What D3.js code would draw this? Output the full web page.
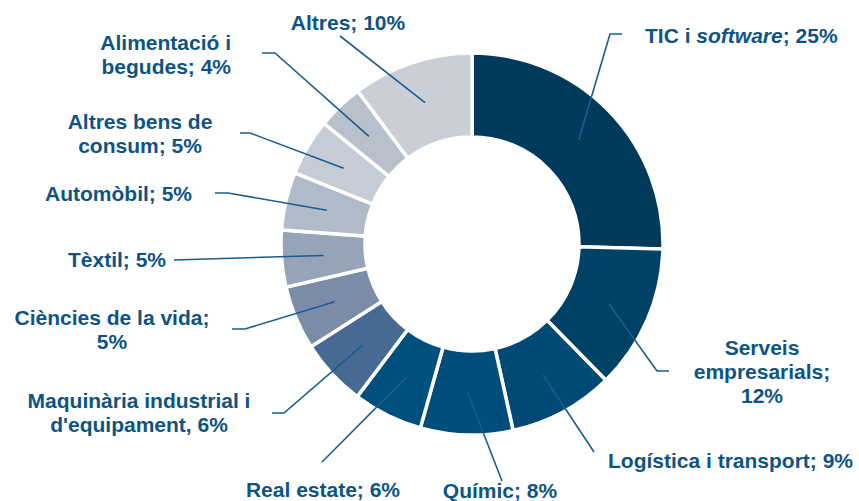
<!DOCTYPE html>
<html>
<head>
<meta charset="utf-8">
<script src="https://cdn.jsdelivr.net/npm/d3@7"></script>
<style>
  body { margin: 0; background: #fff; }
  svg text { font-family: "Liberation Sans", Arial, sans-serif; font-weight: bold; font-size: 21px; fill: #0d5484; }
</style>
</head>
<body>
<svg id="chart"></svg>
<script>
var w = 859;
var h = 501;

// sectors, clockwise from 12 o'clock
var sectors = ["TIC i software", "Serveis empresarials", "Logística i transport", "Químic",
    "Real estate", "Maquinària industrial i d'equipament", "Ciències de la vida", "Tèxtil",
    "Automòbil", "Altres bens de consum", "Alimentació i begudes", "Altres"];
// share
var shares = [25.4, 12.2, 8.9, 7.8, 5.9, 5.7, 5.4, 4.8, 4.9, 4.8, 3.9, 10.2];
// rounded value printed in the labels
var shown = [25, 12, 9, 8, 6, 6, 5, 5, 5, 5, 4, 10];

var colors = ["#003a5a", "#004266", "#004a75", "#004c7a", "#00507f", "#466a92",
    "#7a8ca8", "#96a4b8", "#b1bac8", "#c5ccd6", "#b8c0cc", "#c9ced7"];

// label layout: lines of text, anchor point, and leader points before the centroid
var labels = [
    {lines: [["TIC i ", "software", "; 25%"]], x: 645, y: 43, anchor: "start", lead: [[622, 34], [610, 34]]},
    {lines: ["Serveis", "empresarials;", "12%"], x: 762, y: 355, anchor: "middle", lead: [[669, 371], [657, 371]]},
    {lines: ["Logística i transport; 9%"], x: 608, y: 468, anchor: "start", lead: [[594, 452]]},
    {lines: ["Químic; 8%"], x: 500, y: 498, anchor: "middle", lead: [[502, 481]]},
    {lines: ["Real estate; 6%"], x: 323, y: 497, anchor: "middle", lead: [[322, 462]]},
    {lines: ["Maquinària industrial i", "d'equipament, 6%"], x: 139, y: 408, anchor: "middle", lead: [[272, 413], [284, 413]]},
    {lines: ["Ciències de la vida;", "5%"], x: 112, y: 325, anchor: "middle", lead: [[232, 329], [245, 329]]},
    {lines: ["Tèxtil; 5%"], x: 166, y: 267, anchor: "end", lead: [[174, 260]]},
    {lines: ["Automòbil; 5%"], x: 192, y: 201, anchor: "end", lead: [[215, 193], [228, 193]]},
    {lines: ["Altres bens de", "consum; 5%"], x: 140, y: 129, anchor: "middle", lead: [[240, 133], [250, 133]]},
    {lines: ["Alimentació i", "begudes; 4%"], x: 231, y: 50, anchor: "end", lead: [[262, 53], [275, 53]]},
    {lines: ["Altres; 10%"], x: 348, y: 30, anchor: "middle", lead: [[340, 36]]}
];

var cx = 472;
var cy = 244;
var outerRadius = 191;
var innerRadius = 107;

var svg = d3.select("#chart")
    .attr("width", w)
    .attr("height", h);

var pie = d3.pie()
    .sort(null)
    .value(function(d) { return d; });

var arc = d3.arc()
    .innerRadius(innerRadius)
    .outerRadius(outerRadius);

var arcs = pie(shares);

var g = svg.append("g")
    .attr("transform", "translate(" + cx + "," + cy + ")");

g.selectAll("path.slice")
    .data(arcs)
    .enter()
    .append("path")
    .attr("class", "slice")
    .attr("d", arc)
    .attr("fill", function(d, i) { return colors[i]; })
    .attr("stroke", "#fff")
    .attr("stroke-width", 3.5)
    .attr("stroke-linejoin", "miter");

// leader lines end at the slice centroid
var line = d3.line();
svg.selectAll("path.leader")
    .data(arcs)
    .enter()
    .append("path")
    .attr("class", "leader")
    .attr("fill", "none")
    .attr("stroke", "#1a5d8f")
    .attr("stroke-width", 1.6)
    .attr("d", function(d, i) {
        var c = arc.centroid(d);
        var pts = labels[i].lead.concat([[c[0] + cx, c[1] + cy]]);
        return line(pts);
    });

var lineHeight = 24;
labels.forEach(function(lab, i) {
    var t = svg.append("text")
        .attr("x", lab.x)
        .attr("y", lab.y)
        .attr("text-anchor", lab.anchor);
    lab.lines.forEach(function(ln, k) {
        if (Array.isArray(ln)) {
            ln.forEach(function(part, j) {
                var s = t.append("tspan").text(part);
                if (j == 1) s.style("font-style", "italic");
            });
        } else {
            t.append("tspan")
                .attr("x", lab.x)
                .attr("dy", k == 0 ? 0 : lineHeight)
                .text(ln);
        }
    });
});
</script>
</body>
</html>
